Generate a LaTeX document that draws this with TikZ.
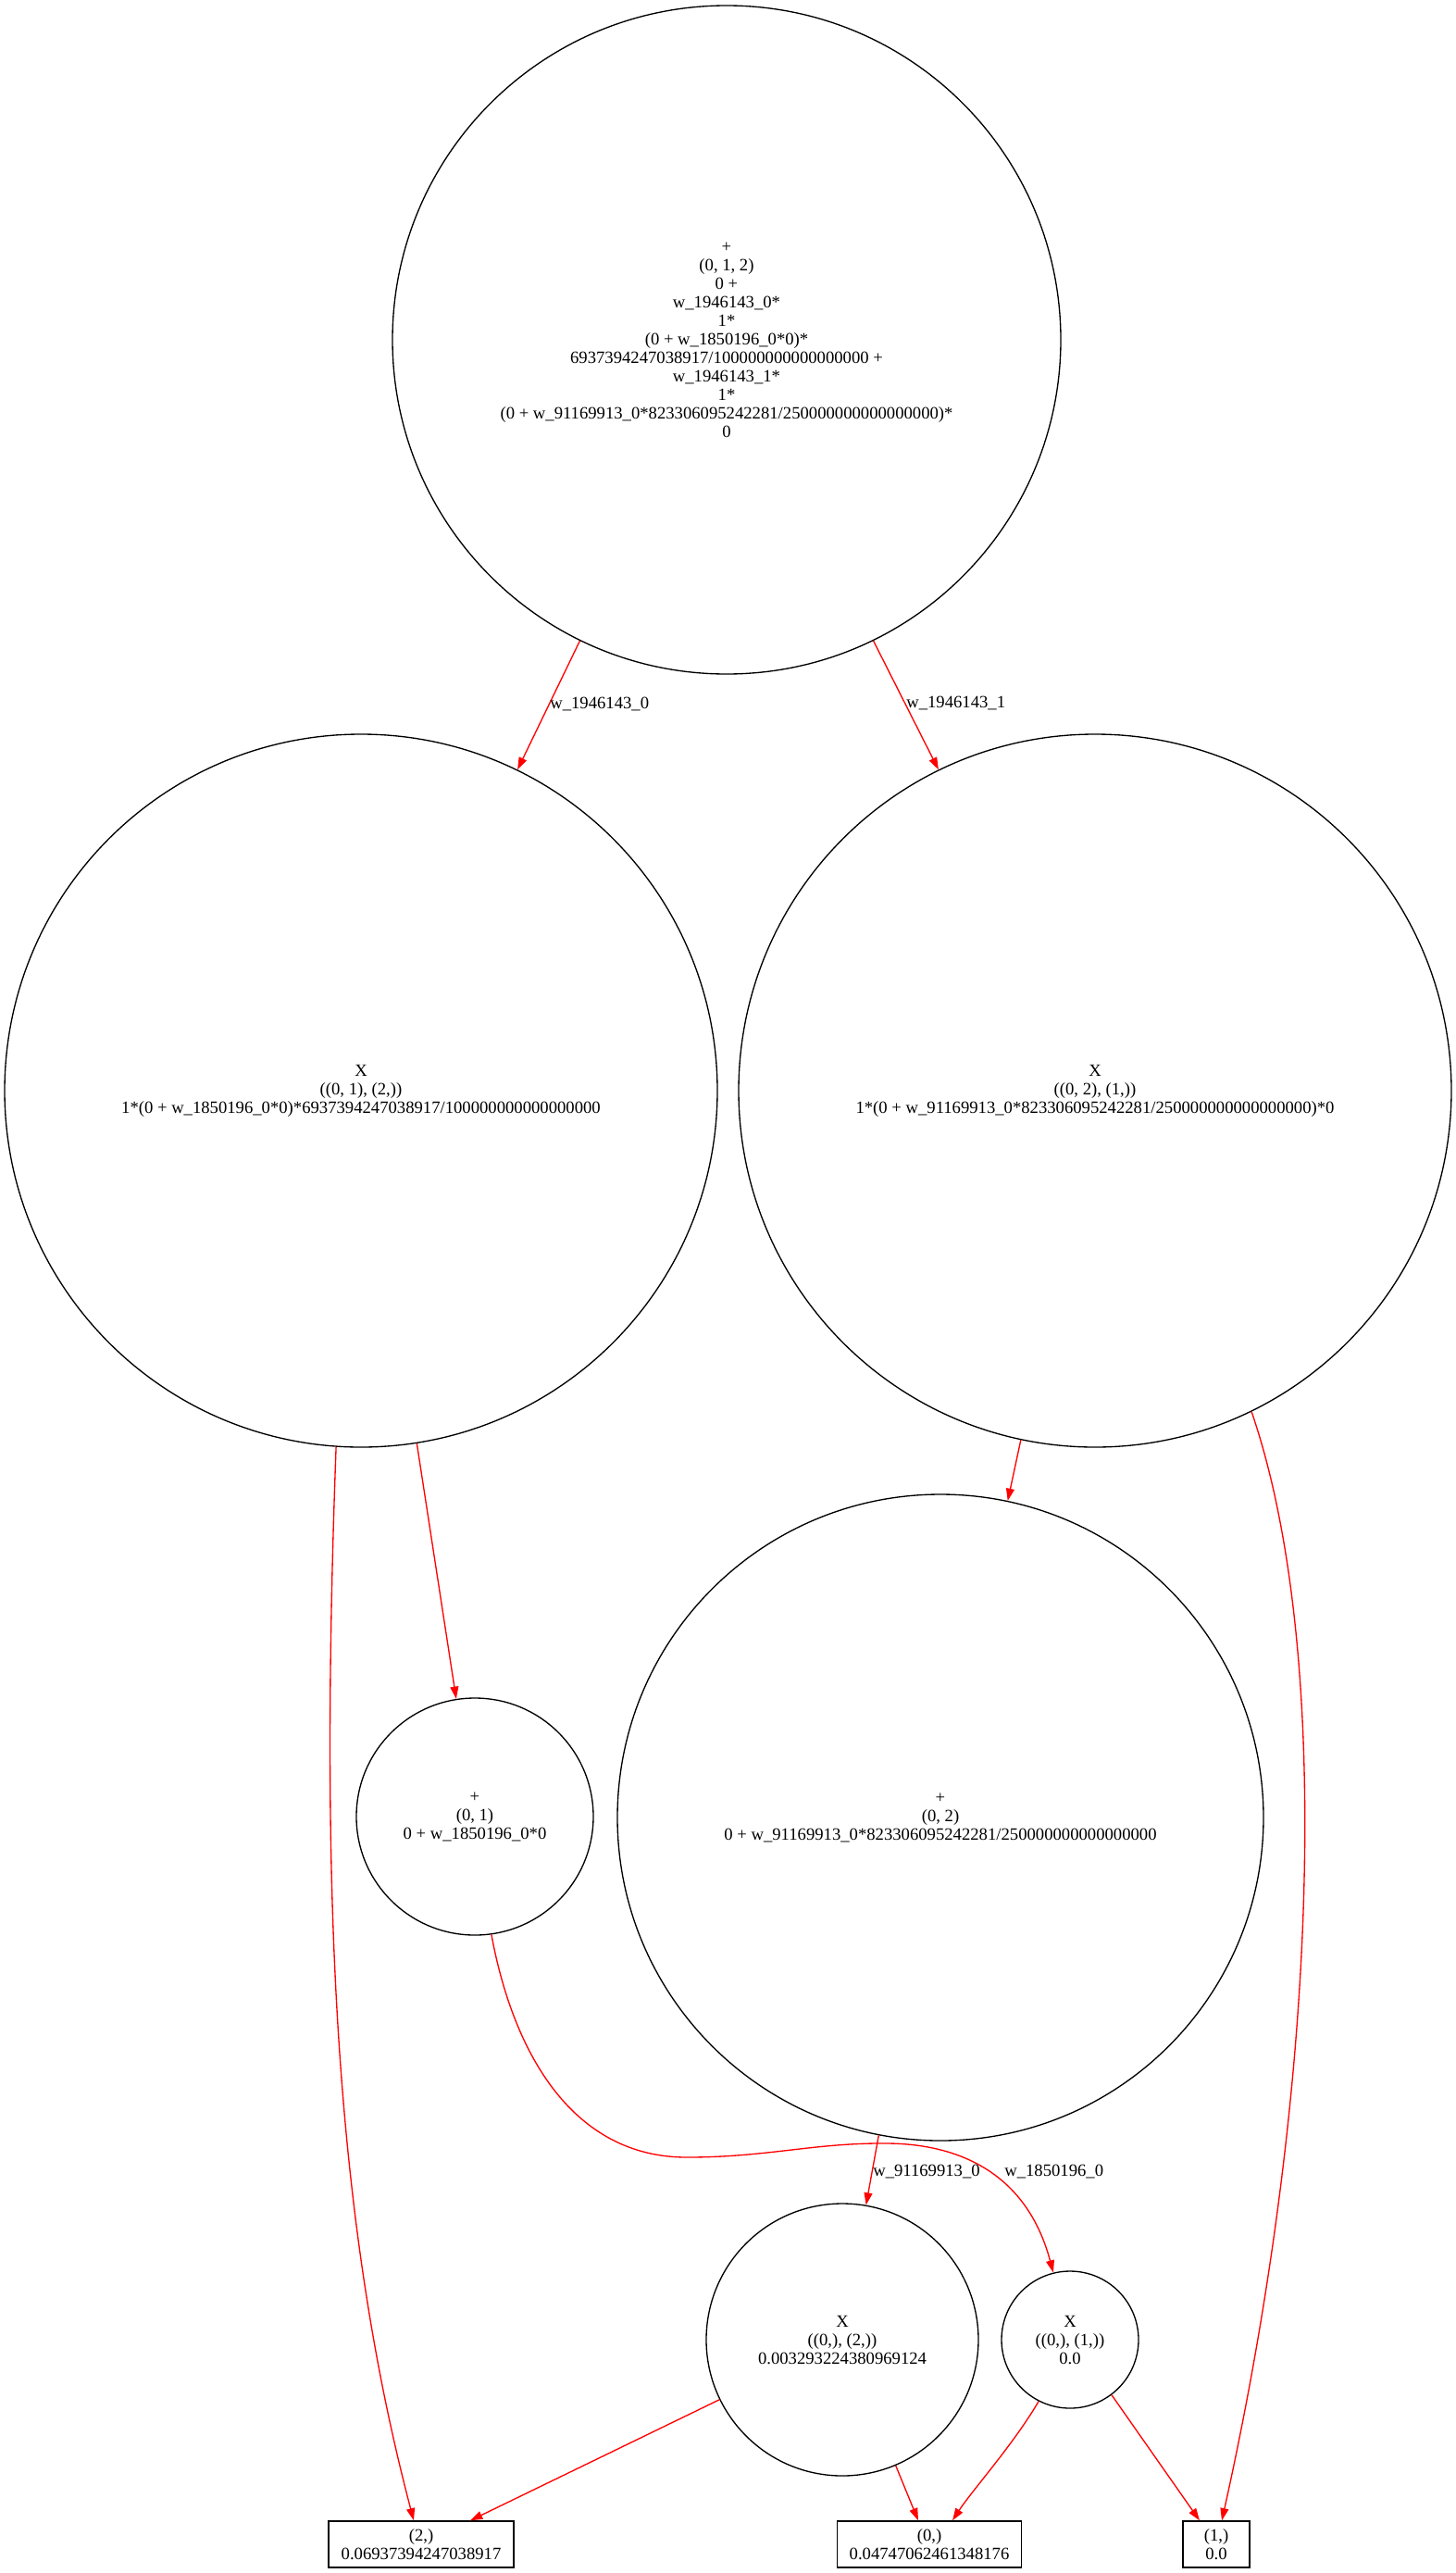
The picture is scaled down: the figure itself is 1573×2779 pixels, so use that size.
\documentclass[tikz,border=0pt]{standalone}
\usepackage{fontspec}
\setmainfont{Liberation Serif}
\usetikzlibrary{arrows.meta, positioning}

\begin{document}
\begin{tikzpicture}[x=0.75pt, y=-0.75pt,
    every node/.style={font=\fontsize{14}{15}\selectfont, align=center},
    op/.style={draw, circle, inner sep=0pt, line width=1pt},
    leaf/.style={draw, rectangle, inner sep=0pt, minimum height=37.5pt, line width=1pt},
    edge/.style={red, line width=1pt, -{Triangle[length=10pt, width=6.7pt]}},
    wlabel/.style={anchor=west, inner sep=0pt}]
    \useasboundingbox (0,0) rectangle (1573,2779);

    % operation nodes
    \node[op, minimum size=541.5pt] (top) at (785,367) {+\\(0, 1, 2)\\0 +\\w\_1946143\_0*\\1*\\(0 + w\_1850196\_0*0)*\\6937394247038917/100000000000000000 +\\w\_1946143\_1*\\1*\\(0 + w\_91169913\_0*823306095242281/250000000000000000)*\\0};
    \node[op, minimum size=577.5pt] (xa) at (390,1178) {X\\((0, 1), (2,))\\1*(0 + w\_1850196\_0*0)*6937394247038917/100000000000000000};
    \node[op, minimum size=577.5pt] (xb) at (1183,1178) {X\\((0, 2), (1,))\\1*(0 + w\_91169913\_0*823306095242281/250000000000000000)*0};
    \node[op, minimum size=192pt] (pa) at (513,1962) {+\\(0, 1)\\0 + w\_1850196\_0*0};
    \node[op, minimum size=523.5pt] (pb) at (1016,1963) {+\\(0, 2)\\0 + w\_91169913\_0*823306095242281/250000000000000000};
    \node[op, minimum size=220.5pt] (xc) at (910,2527) {X\\((0,), (2,))\\0.003293224380969124};
    \node[op, minimum size=111pt] (xd) at (1156,2527) {X\\((0,), (1,))\\0.0};

    % leaves
    \node[leaf, minimum width=150pt] (b2) at (455,2748) {(2,)\\0.06937394247038917};
    \node[leaf, minimum width=149.25pt] (b0) at (1004,2748) {(0,)\\0.04747062461348176};
    \node[leaf, minimum width=54pt] (b1) at (1314,2748) {(1,)\\0.0};

    \coordinate (b2l) at ([xshift=-6pt]b2.north);
    \coordinate (b2r) at ([xshift=39.75pt]b2.north);
    \coordinate (b0l) at ([xshift=-9pt]b0.north);
    \coordinate (b0r) at ([xshift=18.75pt]b0.north);
    \coordinate (b1l) at ([xshift=-13.5pt]b1.north);
    \coordinate (b1r) at ([xshift=4.5pt]b1.north);

    % straight edges
    \foreach \s/\t in {top.244/xa.64, top.296/xb.116, xa.279/pa.99, xb.258/pb.78,
                       pb.259/xc.80, xc.206/b2r, xc.293/b0l, xd.307/b1l}
        \draw[edge] (\s) -- (\t);

    % curved edges
    \draw[edge] (xa.266) .. controls (345,2050) and (362,2400) .. (b2l);
    \draw[edge] (xb.296) .. controls (1440,1780) and (1425,2250) .. (b1r);
    \draw[edge] (pa.278) .. controls (555,2220) and (620,2330) .. (742,2330)
                .. controls (830,2330) and (880,2314) .. (960,2315)
                .. controls (1040,2316) and (1110,2350) .. (xd.104);
    \draw[edge] (xd.243) .. controls (1095,2640) and (1050,2690) .. (b0r);

    % edge labels
    \node[wlabel] (l1) at (594,760) {w\_1946143\_0};
    \node[wlabel] (l2) at (979,760) {w\_1946143\_1};
    \node[wlabel] (l3) at (943,2345) {w\_91169913\_0};
    \node[wlabel] (l4) at (1085,2345) {w\_1850196\_0};
\end{tikzpicture}
\end{document}
